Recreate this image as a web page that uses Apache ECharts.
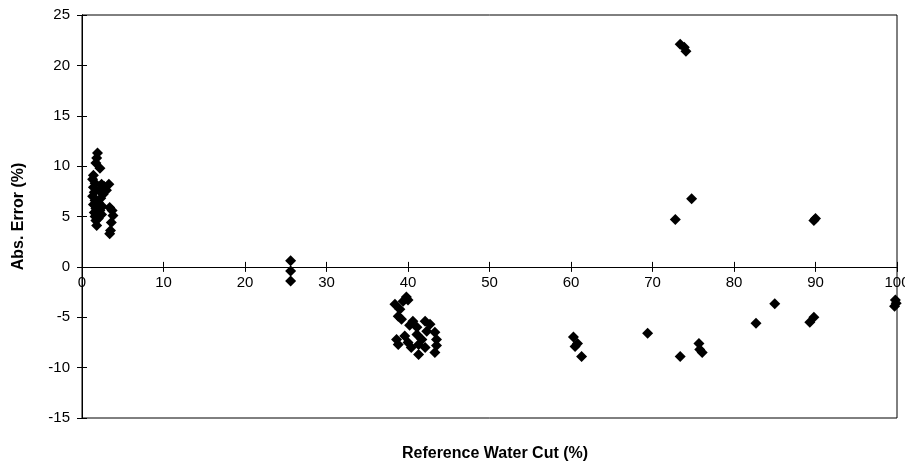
<!DOCTYPE html>
<html>
<head>
<meta charset="utf-8">
<script src="https://cdn.jsdelivr.net/npm/echarts@6/dist/echarts.min.js"></script>
<style>
html, body { margin: 0; padding: 0; background: #fff; }
#chart { width: 905px; height: 464px; }
</style>
</head>
<body>
<div id="chart"></div>
<script>
// reference water cut (%) of each sample
var waterCut = [
    1.9, 1.8, 1.7, 1.4, 1.3, 1.6, 1.4, 1.5, 1.3, 1.6, 1.4, 1.7, 1.5, 1.6, 1.7, 1.8,
    2.2, 2.4, 2.1, 2.6, 2.3, 2.0, 2.5, 2.2, 2.7, 2.4, 2.0,
    3.3, 3.0, 3.4, 3.7, 3.8, 3.6, 3.5, 3.4,
    25.6, 25.6, 25.6,
    39.8, 38.4, 39.0, 38.8, 39.4, 40.0, 40.6, 41.1, 42.1, 42.7, 43.3, 43.5, 43.5, 43.3,
    38.6, 38.8, 39.6, 40.0, 40.4, 41.3, 41.1, 41.7, 42.3, 41.3, 42.1, 40.2, 39.2,
    60.3, 60.8, 60.5, 61.3,
    69.4, 73.4, 75.7, 75.8, 76.1,
    73.4, 73.9, 74.1,
    72.8, 74.8,
    89.8, 90.0,
    85.0, 82.7, 89.3, 89.8,
    99.8, 99.9, 99.7
];
// absolute error (%) of each sample
var absError = [
    11.3, 10.8, 10.3, 9.1, 8.7, 8.3, 7.9, 7.4, 7.0, 6.6, 6.2, 5.8, 5.4, 5.0, 4.6, 4.1,
    9.8, 8.2, 7.6, 7.2, 6.8, 6.4, 6.0, 5.6, 8.0, 5.2, 4.8,
    8.2, 7.6, 5.9, 5.6, 5.1, 4.4, 3.6, 3.3,
    0.6, -0.4, -1.4,
    -3.0, -3.7, -4.2, -4.9, -3.4, -3.3, -5.4, -6.0, -5.4, -5.7, -6.5, -7.2, -7.8, -8.5,
    -7.2, -7.7, -6.85, -7.5, -8.0, -8.7, -6.7, -7.2, -6.4, -7.7, -8.0, -5.8, -5.2,
    -6.95, -7.6, -7.9, -8.9,
    -6.6, -8.9, -7.6, -8.2, -8.5,
    22.1, 21.8, 21.4,
    4.7, 6.75,
    4.6, 4.8,
    -3.65, -5.6, -5.5, -5.0,
    -3.3, -3.6, -3.9
];
var xTicks = { min: 0, max: 100, step: 10 };
var yTicks = { min: -15, max: 25, step: 5 };

var font = 'Liberation Sans, Arial, sans-serif';

var points = [];
for (var i = 0; i < waterCut.length; i++) {
    points.push([waterCut[i], absError[i]]);
}

// plot box
var boxTop = 15, boxBottom = 46, boxH = 464 - boxTop - boxBottom;
// the x axis crosses at y = 0, so a second (upper) grid ends exactly there
var zeroFromTop = boxTop + boxH * (yTicks.max - 0) / (yTicks.max - yTicks.min);

var chart = echarts.init(document.getElementById('chart'));
chart.setOption({
    backgroundColor: '#fff',
    animation: false,
    //x axis title under the box
    title: {
        text: 'Reference Water Cut (%)',
        left: 490,
        top: 441,
        textAlign: 'center',
        textStyle: { fontFamily: font, fontSize: 16, fontWeight: 'bold', color: '#000' }
    },
    grid: [
        {
            left: 82, right: 8, top: boxTop, bottom: boxBottom,
            outerBoundsMode: 'none', containLabel: false,
            show: true, borderColor: '#000', borderWidth: 1
        },
        {
            left: 82, right: 8, top: boxTop, bottom: 464 - zeroFromTop,
            outerBoundsMode: 'none', containLabel: false
        }
    ],
    xAxis: [
        {
            gridIndex: 0,
            type: 'value', min: xTicks.min, max: xTicks.max, interval: xTicks.step,
            axisLine: { show: false },
            axisTick: { show: false },
            axisLabel: { show: false },
            splitLine: { show: false }
        },
        {
            gridIndex: 1,
            type: 'value', min: xTicks.min, max: xTicks.max, interval: xTicks.step,
            position: 'bottom',
            axisLine: { onZero: false, lineStyle: { color: '#000', width: 1 } },
            axisTick: { inside: false, length: 5, lineStyle: { color: '#000' } },
            axisLabel: { color: '#000', fontFamily: font, fontSize: 15, margin: 8 },
            splitLine: { show: false }
        },
        {
            gridIndex: 1,
            type: 'value', min: xTicks.min, max: xTicks.max, interval: xTicks.step,
            position: 'bottom',
            axisLine: { onZero: false, lineStyle: { color: '#000', width: 1 } },
            axisTick: { inside: true, length: 5, lineStyle: { color: '#000' } },
            axisLabel: { show: false },
            splitLine: { show: false }
        }
    ],
    yAxis: [
        {
            gridIndex: 0,
            type: 'value', min: yTicks.min, max: yTicks.max, interval: yTicks.step,
            name: 'Abs. Error (%)', nameLocation: 'middle', nameGap: 55,
            nameTextStyle: { fontFamily: font, fontSize: 16, fontWeight: 'bold', color: '#000' },
            axisLine: { show: true, onZero: false, lineStyle: { color: '#000', width: 1 } },
            axisTick: { inside: false, length: 5, lineStyle: { color: '#000' } },
            axisLabel: { color: '#000', fontFamily: font, fontSize: 15, margin: 12 },
            splitLine: { show: false }
        },
        {
            gridIndex: 0,
            type: 'value', min: yTicks.min, max: yTicks.max, interval: yTicks.step,
            position: 'left',
            axisLine: { show: true, onZero: false, lineStyle: { color: '#000', width: 1 } },
            axisTick: { inside: true, length: 5, lineStyle: { color: '#000' } },
            axisLabel: { show: false },
            splitLine: { show: false }
        },
        {
            gridIndex: 1,
            type: 'value', min: 0, max: yTicks.max,
            show: false
        }
    ],
    series: [
        {
            type: 'scatter',
            xAxisIndex: 0,
            yAxisIndex: 0,
            symbol: 'diamond',
            symbolSize: 11,
            itemStyle: { color: '#000', opacity: 1 },
            data: points
        }
    ]
});
</script>
</body>
</html>
